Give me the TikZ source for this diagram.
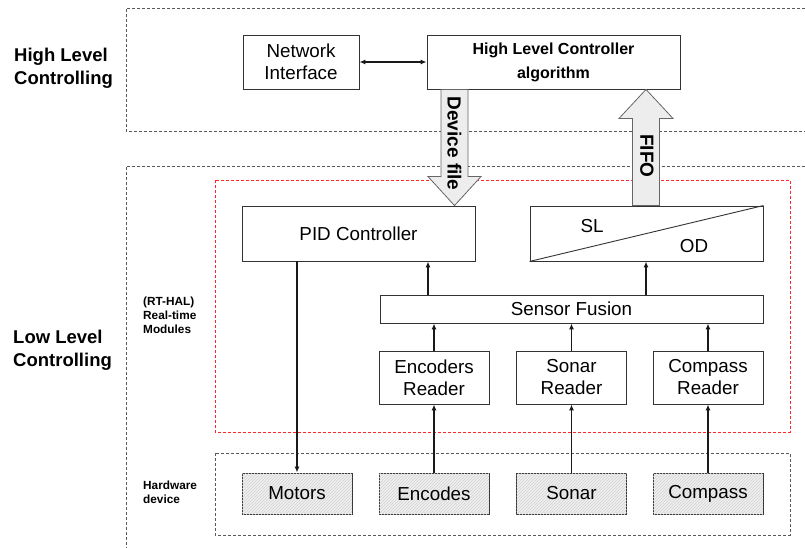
\documentclass[tikz,border=0pt]{standalone}
\usepackage{fontspec}
\setmainfont{Liberation Sans}
\usetikzlibrary{arrows.meta,patterns,calc}
\begin{document}
\begin{tikzpicture}[x=1pt,y=-1pt,
  box/.style={draw=black!80, line width=0.9pt, fill=white, align=center, inner sep=0pt,
              font=\fontsize{18.8}{22}\selectfont},
  hwbox/.style={box, fill=gray!12, postaction={pattern=north east lines, pattern color=gray!35},
              minimum width=110pt, minimum height=41pt},
  rdbox/.style={box, minimum width=110pt, minimum height=53pt},
  conn/.style={line width=1.5pt, black!90, -{Latex[length=6pt,width=5pt]}},
  biconn/.style={line width=1.5pt, black!90, {Latex[length=6pt,width=5pt]}-{Latex[length=6pt,width=5pt]}},
  dashline/.style={draw=black!65, dash pattern=on 3pt off 2pt, line width=0.8pt},
  reddash/.style={draw=red!85, dash pattern=on 3pt off 2pt, line width=0.8pt},
  blockarrow/.style={draw=black!60, fill=gray!14, line width=0.8pt},
  biglabel/.style={anchor=west, align=left, inner sep=0pt, font=\bfseries\fontsize{18.5}{23}\selectfont},
  smalllabel/.style={anchor=west, align=left, inner sep=0pt, font=\bfseries\fontsize{11.8}{14}\selectfont},
  arrowtext/.style={rotate=-90, inner sep=0pt, font=\bfseries\fontsize{19}{22}\selectfont}
]
\useasboundingbox (0,0) rectangle (805,548);
\fill[white] (0,0) rectangle (805,548);

% level frames
\draw[dashline] (805,8) -- (126,8) -- (126,131) -- (805,131);
\draw[dashline] (805,166) -- (126,166) -- (126,548);
\draw[reddash] (215,180) rectangle (790,432);
\draw[dashline] (215,453) rectangle (790,535);

% side labels
\node[biglabel] (hl) at (14,68.5) {High Level\\Controlling};
\node[biglabel] (ll) at (13,350.5) {Low Level\\Controlling};
\node[smalllabel] (rt) at (143,315) {(RT-HAL)\\Real-time\\Modules};
\node[smalllabel] (hwl) at (143,492) {Hardware\\device};

% high level boxes
\node[box, minimum width=116pt, minimum height=54pt] (ni) at (301,62) {Network\\Interface};
\node[box, minimum width=253pt, minimum height=54pt, font=\bfseries\fontsize{16}{24}\selectfont] (hlc) at (553.5,62) {High Level Controller\\algorithm};
\draw[biconn] (ni) -- (hlc);

% real-time modules
\node[box, minimum width=233pt, minimum height=55pt] (pid) at (358.5,233.5) {PID Controller};
\node[box, minimum width=233pt, minimum height=55pt] (slod) at (646.5,233.5) {};
\draw[line width=0.9pt, black!80] (slod.south west) -- (slod.north east);
\node[font=\fontsize{18.8}{22}\selectfont] (sl) at (592,226) {SL};
\node[font=\fontsize{18.8}{22}\selectfont] (od) at (694,246) {OD};

\node[box, minimum width=383pt, minimum height=28pt] (sf) at (571.5,309) {Sensor Fusion};

\node[rdbox] (er) at (434,377.5) {Encoders\\Reader};
\node[rdbox] (sr) at (571.5,377.5) {Sonar\\Reader};
\node[rdbox] (cr) at (708,377.5) {Compass\\Reader};

% hardware
\node[hwbox] (mo) at (297,493.5) {Motors};
\node[hwbox] (en) at (434,493.5) {Encodes};
\node[hwbox] (so) at (571.5,493.5) {Sonar};
\node[hwbox] (co) at (708,493.5) {Compass};

% connectors
\coordinate (pidout) at (297,0);
\draw[conn] (pidout |- pid.south) -- (pidout |- mo.north);
\coordinate (sfpid) at (428,0);
\draw[conn] (sfpid |- sf.north) -- (sfpid |- pid.south);
\coordinate (sfsl) at (646,0);
\draw[conn] (sfsl |- sf.north) -- (sfsl |- slod.south);
\draw[conn] (er.north) -- (er.north |- sf.south);
\draw[conn] (sr.north) -- (sr.north |- sf.south);
\draw[conn] (cr.north) -- (cr.north |- sf.south);
\draw[conn] (en.north) -- (er.south);
\draw[conn] (so.north) -- (sr.south);
\draw[conn] (co.north) -- (cr.south);

% block arrows
\coordinate (dfx) at (454.5,0);
\coordinate (dftop) at (dfx |- hlc.south);
\coordinate (dftip) at (dfx |- pid.north);
\draw[blockarrow] ($(dftop)+(-13.5,0)$) -- ($(dftip)+(-13.5,-29)$) -- ($(dftip)+(-26.5,-29)$)
   -- (dftip) -- ($(dftip)+(26.5,-29)$) -- ($(dftip)+(13.5,-29)$) -- ($(dftop)+(13.5,0)$) -- cycle;
\node[arrowtext] (dftext) at (454.5,143.5) {Device file};

\coordinate (ffx) at (646,0);
\coordinate (fftip) at (ffx |- hlc.south);
\coordinate (ffbot) at (ffx |- slod.north);
\draw[blockarrow] ($(ffbot)+(-13.5,0)$) -- ($(fftip)+(-13.5,29)$) -- ($(fftip)+(-27,29)$)
   -- (fftip) -- ($(fftip)+(27,29)$) -- ($(fftip)+(13.5,29)$) -- ($(ffbot)+(13.5,0)$) -- cycle;
\node[arrowtext] (fftext) at (647,156) {FIFO};
\end{tikzpicture}
\end{document}
